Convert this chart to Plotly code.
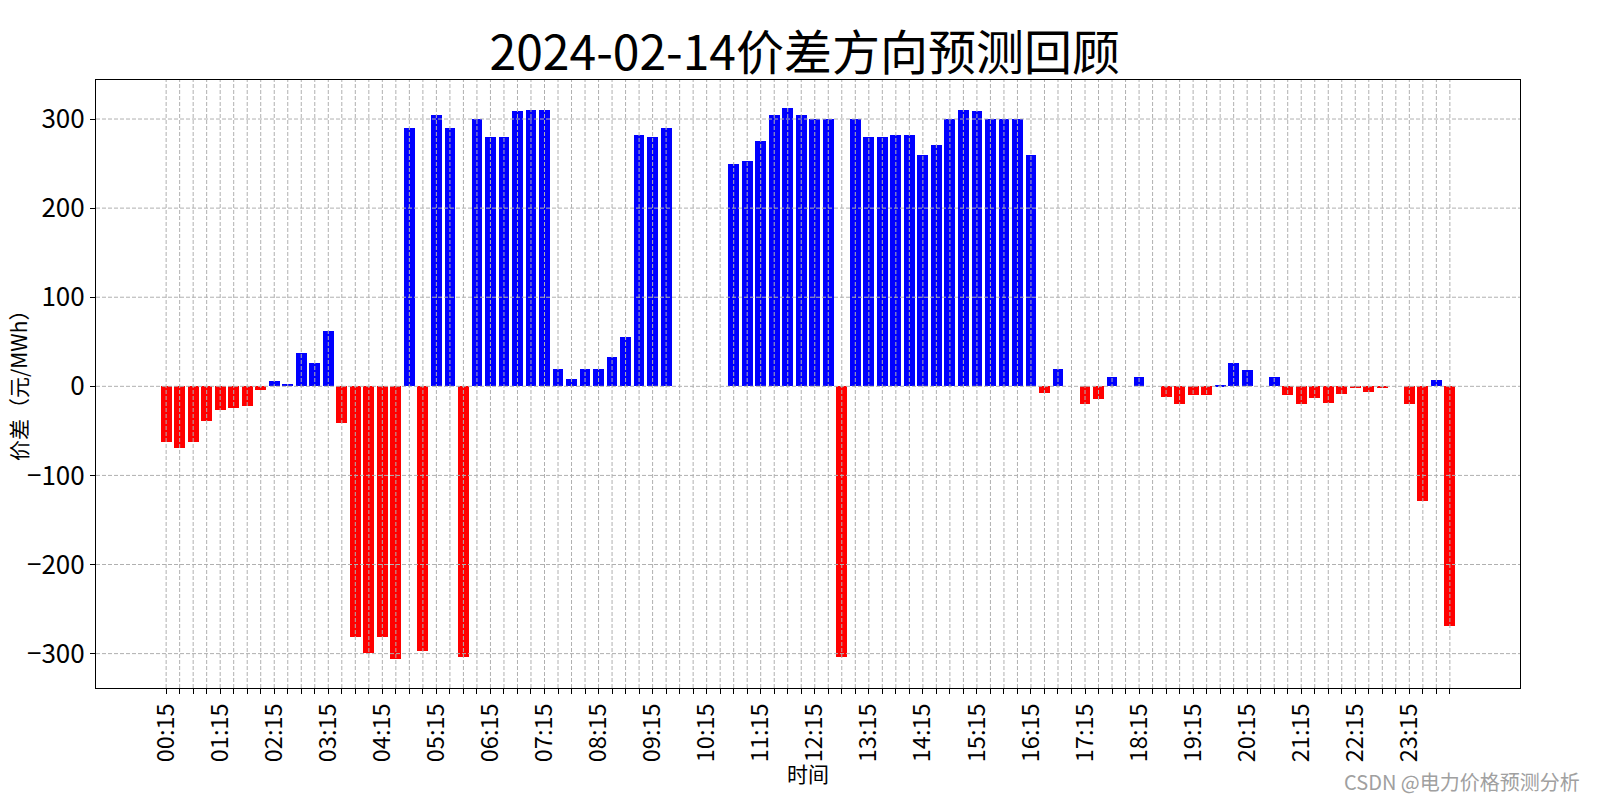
import plotly.graph_objects as go

# ---- data ----
times = ["%02d:%02d" % divmod((i + 1) * 15, 60) for i in range(96)]
times[-1] = "24:00"
values = [
    -63, -69, -63, -39, -27, -24, -22, -4,
    6, 3, 37, 26, 62, -41, -281, -299,
    -281, -306, 290, -297, 305, 290, -304, 300,
    280, 280, 309, 310, 310, 20, 8, 20,
    20, 33, 55, 282, 280, 290, 0, 0,
    0, 0, 250, 253, 275, 305, 312, 305,
    300, 300, -304, 300, 280, 280, 282, 282,
    260, 271, 300, 310, 309, 300, 300, 300,
    260, -8, 20, 0, -20, -14, 10, 0,
    10, 0, -12, -20, -10, -10, 1, 26,
    18, 0, 10, -10, -20, -13, -19, -9,
    -2, -6, -2, 0, -20, -129, 7, -269,
]
tick_labels = [t if i % 4 == 0 else "" for i, t in enumerate(times)]
y_ticks = [-300, -200, -100, 0, 100, 200, 300]

x_idx = list(range(len(times)))
colors = ["#0000ff" if v >= 0 else "#ff0000" for v in values]

FONT = "Noto Sans CJK SC"

fig = go.Figure()
fig.add_trace(go.Bar(
    x=x_idx, y=values, width=0.8,
    marker=dict(color=colors, line=dict(width=0)),
    customdata=times,
    hovertemplate="%{customdata}: %{y}<extra></extra>",
))

grid_style = dict(color="#b0b0b0", width=1, dash="4px,2px")
shapes = []
for xi in x_idx:
    shapes.append(dict(type="line", xref="x", yref="paper", x0=xi, x1=xi,
                       y0=0, y1=1, line=grid_style, layer="above"))
for yv in y_ticks:
    shapes.append(dict(type="line", xref="paper", yref="y", x0=0, x1=1,
                       y0=yv, y1=yv, line=grid_style, layer="above"))

fig.update_layout(
    width=1600, height=800,
    paper_bgcolor="white", plot_bgcolor="white",
    margin=dict(l=96, r=80, t=80, b=112),
    showlegend=False,
    bargap=0,
    font=dict(family=FONT, color="black"),
    title=dict(text="2024-02-14价差方向预测回顾", x=0.503, xanchor="center",
               y=0.934, yanchor="middle", yref="container",
               font=dict(size=48, family=FONT, color="black")),
    shapes=shapes,
    annotations=[
        dict(text="时间", xref="paper", yref="paper", x=0.5, y=0, yshift=-85,
             xanchor="center", yanchor="middle", showarrow=False,
             font=dict(size=21, family=FONT, color="black")),
        dict(text="价差（元/MWh）", xref="paper", yref="paper", x=0, xshift=-78,
             y=0.505, xanchor="center", yanchor="middle", textangle=-90,
             showarrow=False, borderpad=0,
             font=dict(size=21, family=FONT, color="black")),
        dict(text="CSDN @电力价格预测分析", xref="paper", yref="paper",
             x=1, xshift=62, y=0, yshift=-93, xanchor="right", yanchor="middle",
             showarrow=False, font=dict(size=20, family=FONT, color="#a0a0a0")),
    ],
)
fig.update_xaxes(
    range=[-5.19, 100.19],
    tickmode="array", tickvals=x_idx, ticktext=tick_labels,
    tickangle=-90, tickfont=dict(size=23.5, family=FONT, color="black"),
    ticks="outside", ticklen=5, tickcolor="black", tickwidth=1,
    showgrid=False, zeroline=False,
    showline=True, linecolor="black", linewidth=1.2, mirror=True,
)
fig.update_yaxes(
    range=[-338.6, 343.8],
    tickmode="array", tickvals=y_ticks,
    tickfont=dict(size=26, family=FONT, color="black"),
    ticks="outside", ticklen=5, tickcolor="black", tickwidth=1,
    showgrid=False, zeroline=False,
    showline=True, linecolor="black", linewidth=1.2, mirror=True,
)

fig.write_html("out.html", config={"displayModeBar": False},
               post_script="document.body.style.margin='0';")
